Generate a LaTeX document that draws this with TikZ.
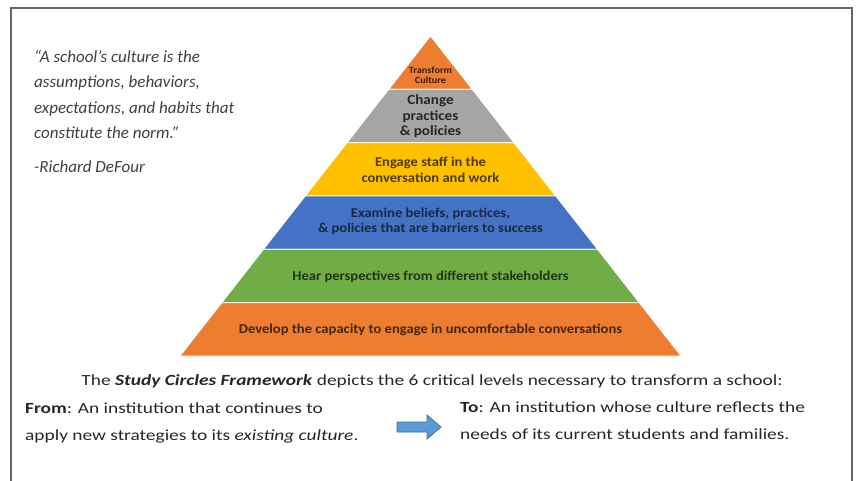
\documentclass[tikz,border=0pt]{standalone}
\usepackage{fontspec}
\setmainfont{Carlito}
\newfontfamily\pyrfont[FakeStretch=1.08]{Carlito}
\newfontfamily\capfont[FakeStretch=1.25]{Carlito}
\usetikzlibrary{positioning}

\definecolor{lvlorange}{HTML}{ED7D31}
\definecolor{lvlgray}{HTML}{A5A5A5}
\definecolor{lvlyellow}{HTML}{FFC000}
\definecolor{lvlblue}{HTML}{4472C4}
\definecolor{lvlgreen}{HTML}{70AD47}
\definecolor{arrowblue}{HTML}{5B9BD5}
\definecolor{arrowedge}{HTML}{41719C}

\begin{document}
\begin{tikzpicture}[x=1pt, y=-1pt]
				\tikzset{level/.style={align=center, font=\pyrfont\bfseries\fontsize{13.5}{15}\selectfont},
					band/.style={draw=white, line width=0.8pt},
					plain/.style={anchor=north west, align=left, text=black!85, inner sep=0pt, font=\capfont\fontsize{15.5}{27}\selectfont} }
					\useasboundingbox (0,0) rectangle (858,481);
					\draw[black!60, line width=1.3pt] (11,481) -- (11,8) -- (852,8) -- (852,481);
					
					% pyramid levels
					\filldraw[band, fill=lvlorange] (430.5,36) -- (472.25,89.3) -- (388.75,89.3) -- cycle;
					\filldraw[band, fill=lvlgray] (388.75,89.3) -- (472.25,89.3) -- (514,142.7) -- (347,142.7) -- cycle;
					\filldraw[band, fill=lvlyellow] (347,142.7) -- (514,142.7) -- (555.75,196) -- (305.25,196) -- cycle;
					\filldraw[band, fill=lvlblue] (305.25,196) -- (555.75,196) -- (597.5,249.3) -- (263.5,249.3) -- cycle;
					\filldraw[band, fill=lvlgreen] (263.5,249.3) -- (597.5,249.3) -- (639.25,302.7) -- (221.75,302.7) -- cycle;
					\filldraw[band, fill=lvlorange] (221.75,302.7) -- (639.25,302.7) -- (681,356) -- (180,356) -- cycle;
					
					\node[level, text=lvlorange!25!black, font=\pyrfont\bfseries\fontsize{9.5}{10.5}\selectfont] (T) at (430.5,75) {Transform\\Culture};
					\node[level, text=black!85, font=\pyrfont\bfseries\fontsize{14}{15.5}\selectfont] (C) at (430.5,116.5) {Change\\practices\\\& policies};
					\node[level, text=lvlyellow!30!black, font=\pyrfont\bfseries\fontsize{13.5}{16}\selectfont] (E) at (430.5,170) {Engage staff in the\\conversation and work};
					\node[level, text=lvlblue!35!black] (X) at (430.5,221) {Examine beliefs, practices,\\\& policies that are barriers to success};
					\node[level, text=lvlgreen!30!black] (H) at (430.5,277) {Hear perspectives from different stakeholders};
					\node[level, text=lvlorange!30!black] (D) at (430.5,330) {Develop the capacity to engage in uncomfortable conversations};
					
					% quote
					\node[plain, text=black!75, font=\itshape\fontsize{17}{25.3}\selectfont] (Q) at (34,50) {``A school's culture is the\\assumptions, behaviors,\\expectations, and habits that\\constitute the norm.''};
					\node[plain, text=black!75, font=\itshape\fontsize{17}{25}\selectfont, below=22pt of Q.south west, anchor=north west] (R) {-Richard DeFour};
					
					% caption and from/to
					\node[text=black!85, font=\capfont\fontsize{15.5}{20}\selectfont] (S) at (432,381) {The \textbf{\textit{Study Circles Framework}} depicts the 6 critical levels necessary to transform a school:};
					\node[plain] (F) at (25,403) {\textbf{From}: An institution that continues to\\apply new strategies to its \textit{existing culture}.};
					\node[plain] (To) at (460,402) {\textbf{To}: An institution whose culture reflects the\\needs of its current students and families.};
					\filldraw[fill=arrowblue, draw=arrowedge, line width=0.8pt] (397,422) -- (427,422) -- (427,415) -- (441,427) -- (427,439) -- (427,432) -- (397,432) -- cycle;
			\end{tikzpicture}
\end{document}
